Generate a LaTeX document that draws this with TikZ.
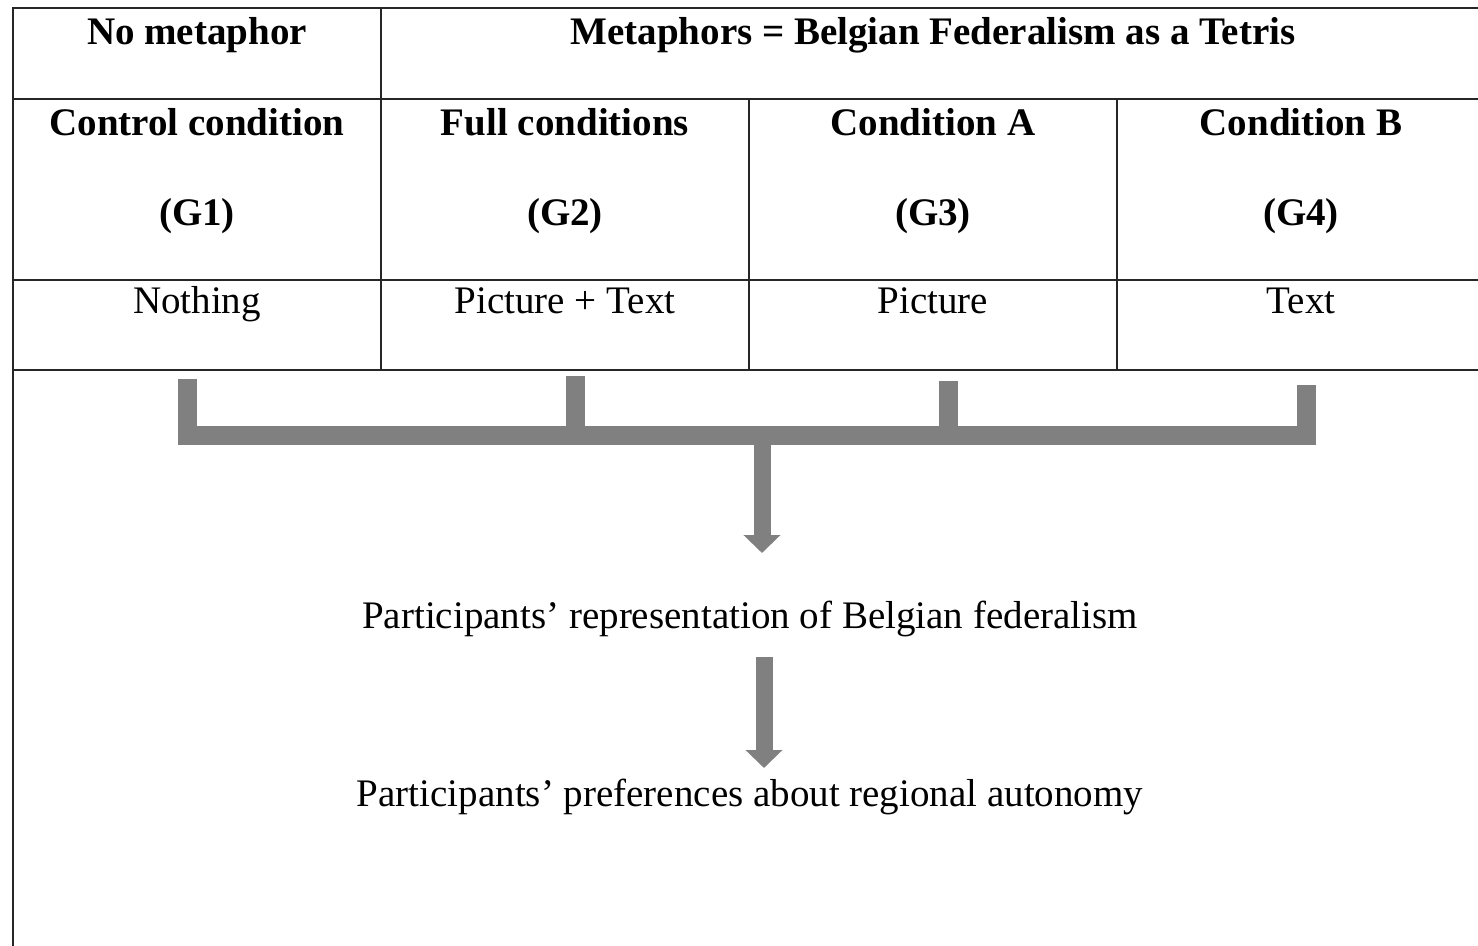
\documentclass[tikz,border=0pt]{standalone}
\usepackage{fontspec}
\setmainfont{Liberation Serif}
\usetikzlibrary{positioning,arrows.meta}
\definecolor{bracketgray}{HTML}{808080}

\begin{document}
\begin{tikzpicture}[
    x=0.5pt,y=-0.5pt,
    grid/.style={draw=black!85,line width=1pt},
    head/.style={anchor=base,inner sep=0pt,font=\fontsize{19.5}{23}\selectfont\bfseries},
    cell/.style={anchor=base,inner sep=0pt,font=\fontsize{19.5}{23}\selectfont},
    bracket/.style={draw=bracketgray,line width=9.5pt,line join=miter},
    bigarrow/.style={draw=bracketgray,line width=8.5pt,-{Triangle[width=18pt,length=9pt]}}
]
\useasboundingbox (0,0) rectangle (1478,946);

% table lines
\draw[grid] (13,946) -- (13,8) -- (1478,8);
\foreach \y in {99,280,370} \draw[grid] (13,\y) -- (1478,\y);
\draw[grid] (381,8) -- (381,370);
\foreach \x in {749,1117} \draw[grid] (\x,99) -- (\x,370);

% header
\node[head] (nometa) at (197,45) {No metaphor};
\node[head] (meta) at (933,45) {Metaphors = Belgian Federalism as a Tetris};

\foreach \x/\cond/\grp/\mat [count=\i] in {197/Control condition/G1/Nothing,
    565/Full conditions/G2/Picture + Text, 933/Condition A/G3/Picture, 1301/Condition B/G4/Text}{
  \node[head] (cond\i) at (\x,136) {\cond};
  \node[head] (grp\i) at (\x,226) {(\grp)};
  \node[cell] (mat\i) at (\x,314) {\mat};
}

% outcomes
\node[cell] (rep) at (750,628) {Participants’ representation of Belgian federalism};
\node[cell] (pref) at (750,806) {Participants’ preferences about regional autonomy};

% bracket
\coordinate (s1) at (187.5,379);
\coordinate (s2) at (575,376);
\coordinate (s3) at (948,381);
\coordinate (s4) at (1306.5,385);
\coordinate (join) at (762,435.5);
\coordinate (tip1) at (762,553);
\coordinate (a2top) at (764,657);
\coordinate (tip2) at (764,768);

\draw[bracket] (s1) |- (join) -| (s4);
\draw[bracket] (s2) -- (s2 |- join);
\draw[bracket] (s3) -- (s3 |- join);
\draw[bigarrow] ([yshift=4.75pt]join) -- (tip1);
\draw[bigarrow] (a2top) -- (tip2);

\end{tikzpicture}
\end{document}
